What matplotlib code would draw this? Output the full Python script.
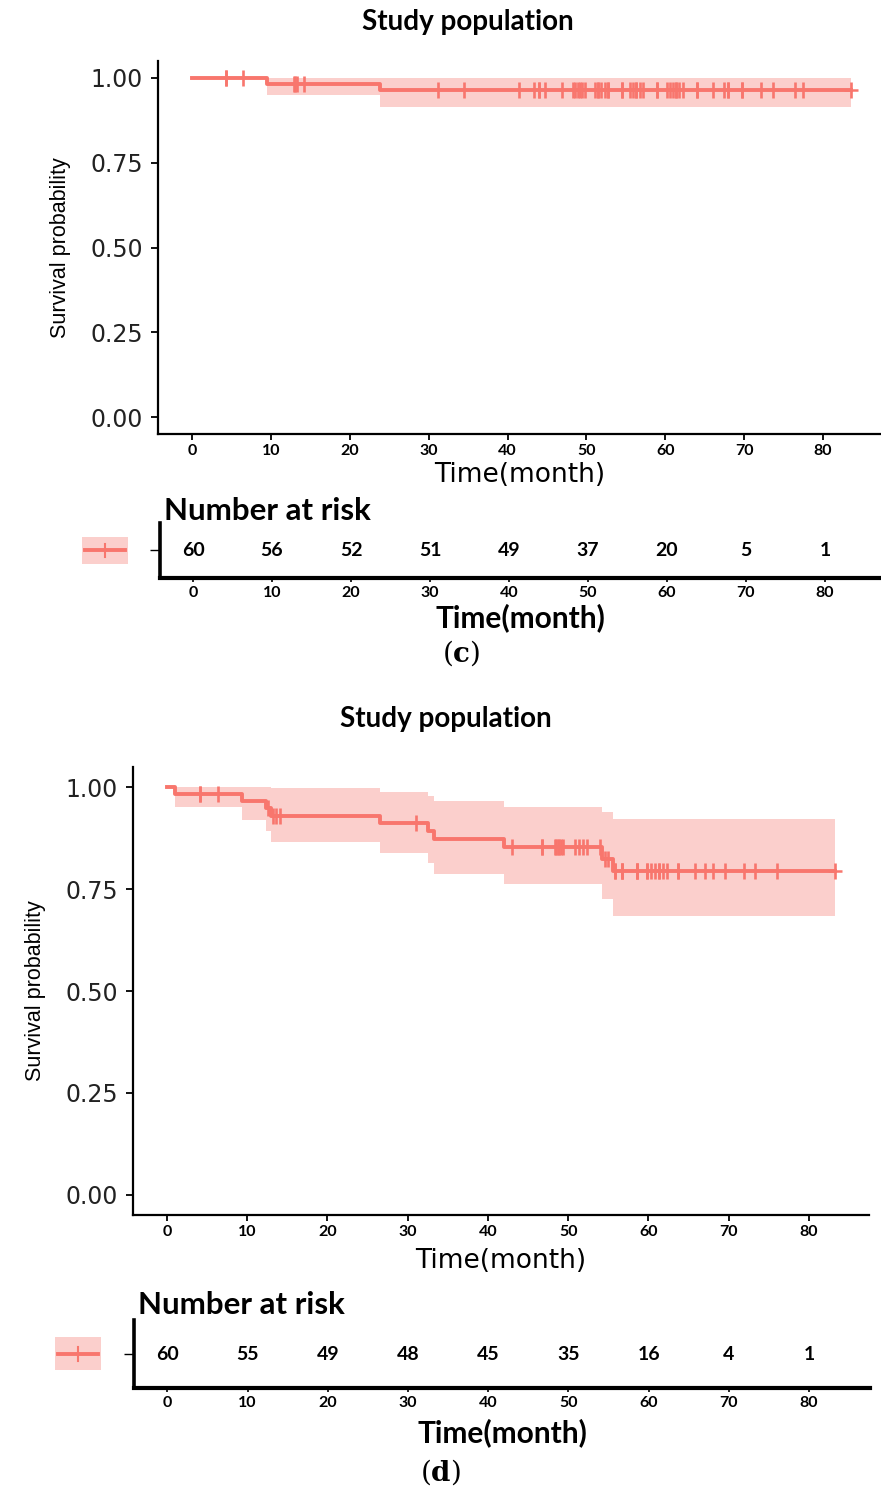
import numpy as np
import matplotlib
matplotlib.use('Agg')
import matplotlib.pyplot as plt
from matplotlib.patches import Rectangle
from matplotlib.lines import Line2D

plt.rcParams['mathtext.fontset'] = 'dejavuserif'

RED = '#F8766D'
PINK = '#FBCFCC'

# ---- data: panel (c) ----
c_events = [9.5, 23.8]
c_censored = [4.3, 4.3, 6.5, 12.9, 13.1, 13.3, 14.2, 31.2, 34.5,
              41.4, 43.3, 44.0, 44.0, 44.7, 46.9, 48.3, 48.6, 48.9, 49.2, 49.5, 49.8,
              51.1, 51.5, 51.5, 51.9, 52.3, 52.7, 52.7, 54.5, 54.5, 55.5, 55.9, 56.3,
              56.3, 56.8, 57.2, 58.9, 58.9,
              60.2, 60.6, 61.0, 61.4, 61.4, 61.8, 62.2, 64.0, 64.0, 66.1, 67.4, 68.0,
              68.0, 69.7, 69.7, 72.2, 73.7, 76.4, 77.5, 83.6]
c_risk = [60, 56, 52, 51, 49, 37, 20, 5, 1]

# ---- data: panel (d) ----
d_events = [1.0, 9.3, 12.3, 13.0, 26.6, 32.5, 33.3, 42.0, 54.2, 55.6]
d_censored = [4.1, 4.1, 6.3, 12.6, 13.2, 13.6, 14.1, 31.0,
              43.0, 46.7, 46.7, 48.3, 48.5, 48.7, 48.9, 49.1, 49.3,
              50.9, 51.3, 51.8, 52.3, 54.0, 54.6, 55.0, 55.8, 55.8, 56.7, 56.7, 56.7,
              58.6, 58.6, 58.6, 59.8, 59.8,
              60.3, 60.8, 61.3, 61.3, 61.8, 62.3, 63.7, 63.7, 65.8, 67.1, 68.1, 69.6,
              71.9, 73.3, 76.0, 83.2]
d_risk = [60, 55, 49, 48, 45, 35, 16, 4, 1]

risk_times = [0, 10, 20, 30, 40, 50, 60, 70, 80]


def kaplan_meier(events, censored):
    # KM estimate with Greenwood variance, log-type confidence band
    t = np.array(events + censored, dtype=float)
    d = np.r_[np.ones(len(events)), np.zeros(len(censored))]
    xs, surv, lo, hi = [0.0], [1.0], [1.0], [1.0]
    s, var = 1.0, 0.0
    for ti in np.unique(t[d == 1]):
        n = (t >= ti).sum()
        di = ((t == ti) & (d == 1)).sum()
        s *= 1 - di / n
        var += di / (n * (n - di))
        se = np.sqrt(var)
        xs.append(ti)
        surv.append(s)
        lo.append(s * np.exp(-1.96 * se))
        hi.append(min(1.0, s * np.exp(1.96 * se)))
    xs.append(t.max())
    surv.append(surv[-1]); lo.append(lo[-1]); hi.append(hi[-1])
    return np.array(xs), np.array(surv), np.array(lo), np.array(hi)


def surv_at(xs, surv, tt):
    idx = np.searchsorted(xs, tt, side='right') - 1
    return surv[idx]


W, H = 881, 1492
fig = plt.figure(figsize=(W / 100, H / 100), dpi=100)


def px_axes(left, top, right, bottom):
    return fig.add_axes([left / W, 1 - bottom / H, (right - left) / W, (bottom - top) / H])


BOLD = dict(family=['Lato', 'DejaVu Sans'], fontweight='bold')


def draw_panel(events, censored, risk, box, rbox, xlim, rxlim, title_xy, patch_box,
               cap_xy, cap, xpad, rxpad):
    xs, surv, lo, hi = kaplan_meier(events, censored)
    ax = px_axes(*box)
    ax.fill_between(xs, lo, hi, step='post', color=PINK, linewidth=0)
    ax.step(xs, surv, where='post', color=RED, lw=2.8)
    cs = np.array(censored)
    ax.plot(cs, surv_at(xs, surv, cs), ls='none', marker='|', ms=11, mew=1.9, color=RED)
    ax.plot([xs[-1]], [surv[-1]], ls='none', marker='_', ms=10, mew=1.8, color=RED)
    ax.set_xlim(*xlim)
    ax.set_ylim(-0.05, 1.05)
    ax.set_xticks(risk_times)
    ax.set_yticks([0, 0.25, 0.5, 0.75, 1.0])
    ax.set_yticklabels(['0.00', '0.25', '0.50', '0.75', '1.00'])
    for s in ['top', 'right']:
        ax.spines[s].set_visible(False)
    for s in ['left', 'bottom']:
        ax.spines[s].set_linewidth(1.6)
    ax.tick_params(axis='y', length=5, width=1.3, labelsize=17, pad=6)
    ax.tick_params(axis='x', length=4, width=1.3, pad=3)
    for lab in ax.get_yticklabels():
        lab.set_family('DejaVu Sans')
        lab.set_color('#222222')
    for lab in ax.get_xticklabels():
        lab.set_fontsize(11.5)
        lab.set_family(['Lato', 'DejaVu Sans'])
        lab.set_fontweight('bold')
    ax.set_xlabel('Time(month)', fontsize=19, family='DejaVu Sans', labelpad=xpad)
    ax.set_ylabel('Survival probability', fontsize=15.5, family='Liberation Sans', labelpad=14)
    fig.text(title_xy[0] / W, 1 - title_xy[1] / H, 'Study population',
             ha='center', va='center', fontsize=20, **BOLD)

    # number at risk table
    rax = px_axes(*rbox)
    rax.set_xlim(*rxlim)
    rax.set_ylim(-1, 1)
    for t, n in zip(risk_times, risk):
        rax.text(t, 0, str(n), ha='center', va='center', fontsize=14, **BOLD)
    rax.set_xticks(risk_times)
    rax.set_yticks([0])
    rax.set_yticklabels([''])
    for s in ['top', 'right']:
        rax.spines[s].set_visible(False)
    rax.spines['left'].set_linewidth(2.6)
    rax.spines['bottom'].set_linewidth(3.0)
    rax.tick_params(axis='y', length=7, width=1.0)
    rax.tick_params(axis='x', length=3, width=1.2, pad=3)
    for lab in rax.get_xticklabels():
        lab.set_fontsize(11.5)
        lab.set_family(['Lato', 'DejaVu Sans'])
        lab.set_fontweight('bold')
    rax.set_xlabel('Time(month)', fontsize=21.5, labelpad=rxpad, **BOLD)
    rax.text(0.005, 1.22, 'Number at risk', transform=rax.transAxes,
             ha='left', va='center', fontsize=22.5, **BOLD)

    # legend key for the single stratum
    x0, y0, x1, y1 = patch_box
    fig.add_artist(Rectangle((x0 / W, 1 - y1 / H), (x1 - x0) / W, (y1 - y0) / H,
                             transform=fig.transFigure, color=PINK, lw=0))
    ym = 1 - (y0 + y1) / 2 / H
    fig.add_artist(Line2D([(x0 + 3) / W, (x1 - 3) / W], [ym, ym],
                          transform=fig.transFigure, color=RED, lw=2.8))
    fig.add_artist(Line2D([(x0 + x1) / 2 / W] * 2, [ym - 7 / H, ym + 7 / H],
                          transform=fig.transFigure, color=RED, lw=1.5))

    fig.text(cap_xy[0] / W, 1 - cap_xy[1] / H, r'$(\mathbf{%s})$' % cap,
             ha='center', va='center', fontsize=20)


draw_panel(c_events, c_censored, c_risk,
           box=(158, 61, 881, 434), rbox=(160, 523, 881, 578),
           xlim=(-4.31, 87.35), rxlim=(-4.18, 87.1),
           title_xy=(468, 22), patch_box=(82, 537, 128, 564),
           cap_xy=(461, 653), cap='c', xpad=3, rxpad=2)

draw_panel(d_events, d_censored, d_risk,
           box=(133, 767, 869, 1215), rbox=(134, 1320, 870, 1388),
           xlim=(-4.24, 87.5), rxlim=(-4.15, 87.6),
           title_xy=(446, 719), patch_box=(55, 1337, 101, 1370),
           cap_xy=(440, 1472), cap='d', xpad=7, rxpad=6)

fig.savefig('out.png', dpi=100)
